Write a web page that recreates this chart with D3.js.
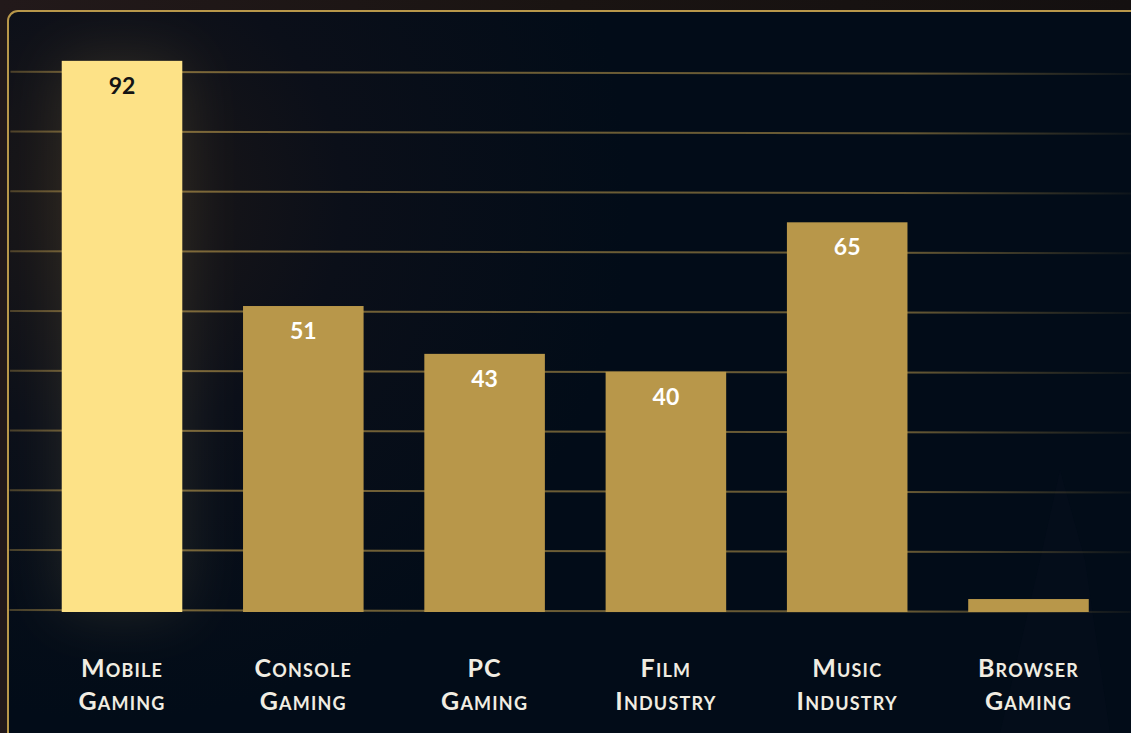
<!DOCTYPE html>
<html lang="en">
<head>
  <meta charset="UTF-8" />
  <title>Industry share</title>
  <style>
    html, body { margin: 0; padding: 0; background: #1b1412; overflow: hidden; }
    svg { display: block; }
    .bar-label { font-family: Lato, "Open Sans", sans-serif; font-size: 23px; font-weight: 700; text-anchor: middle; }
    .cat-label { font-family: Lato, "Open Sans", sans-serif; font-size: 25px; font-weight: 700;
                 font-variant: small-caps; letter-spacing: 1.2px; fill: #f1ede2; text-anchor: middle; }
  </style>
</head>
<body>
  <div id="chart"></div>
  <script src="https://cdn.jsdelivr.net/npm/d3@7"></script>
  <script>
    // data
    const categories = ['Mobile Gaming', 'Console Gaming', 'PC Gaming', 'Film Industry', 'Music Industry', 'Browser Gaming'];
    const values = [92, 51, 43, 40, 65, 2];
    const highlight = 'Mobile Gaming';
    const gridTicks = [0, 10, 20, 30, 40, 50, 60, 70, 80, 90];

    const width = 1131;
    const height = 733;
    const gold = '#b8974a';
    const pale = '#fde287';

    const data = categories.map((c, i) => ({ name: c, value: values[i] }));

    const x = d3.scaleBand()
      .domain(categories)
      .range([1, 1149.5])
      .paddingInner(0.335)
      .paddingOuter(0.335);

    const y = d3.scaleLinear()
      .domain([0, 100])
      .range([611, 13]);

    const svg = d3.select('#chart')
      .append('svg')
      .attr('width', width)
      .attr('height', height);

    const defs = svg.append('defs');

    // panel background: navy with a warm haze at the top left
    const bg = defs.append('radialGradient')
      .attr('id', 'panelGlow')
      .attr('gradientUnits', 'userSpaceOnUse')
      .attr('cx', 110).attr('cy', 200).attr('r', 520);
    bg.append('stop').attr('offset', '0%').attr('stop-color', '#1d1817');
    bg.append('stop').attr('offset', '45%').attr('stop-color', '#0b0f19');
    bg.append('stop').attr('offset', '100%').attr('stop-color', '#020c18');

    const outer = defs.append('linearGradient')
      .attr('id', 'outerBg')
      .attr('x1', '0%').attr('y1', '0%').attr('x2', '100%').attr('y2', '0%');
    outer.append('stop').attr('offset', '0%').attr('stop-color', '#22191a');
    outer.append('stop').attr('offset', '50%').attr('stop-color', '#1a1412');
    outer.append('stop').attr('offset', '100%').attr('stop-color', '#141010');

    const gridGrad = defs.append('linearGradient')
      .attr('id', 'gridGrad')
      .attr('gradientUnits', 'userSpaceOnUse')
      .attr('x1', 10).attr('y1', 0).attr('x2', width).attr('y2', 0);
    gridGrad.append('stop').attr('offset', '0%').attr('stop-color', gold).attr('stop-opacity', 0.35);
    gridGrad.append('stop').attr('offset', '8%').attr('stop-color', gold).attr('stop-opacity', 0.62);
    gridGrad.append('stop').attr('offset', '80%').attr('stop-color', gold).attr('stop-opacity', 0.55);
    gridGrad.append('stop').attr('offset', '100%').attr('stop-color', gold).attr('stop-opacity', 0.06);

    defs.append('filter')
      .attr('id', 'blur')
      .attr('x', '-100%').attr('y', '-50%').attr('width', '300%').attr('height', '200%')
      .append('feGaussianBlur')
      .attr('stdDeviation', 30);

    svg.append('rect')
      .attr('width', width).attr('height', height)
      .attr('fill', 'url(#outerBg)');

    svg.append('rect')
      .attr('x', 8).attr('y', 11)
      .attr('width', width + 40).attr('height', height + 40)
      .attr('rx', 10)
      .attr('fill', 'url(#panelGlow)')
      .attr('stroke', gold)
      .attr('stroke-width', 2);

    // faint silhouette behind the last bar
    svg.append('path')
      .attr('d', 'M1000,733 L1040,560 L1060,470 L1085,560 L1110,733 Z')
      .attr('fill', '#0a1220')
      .attr('opacity', 0.3);

    // gridlines (very slightly tilted, as in the reference)
    svg.append('g')
      .attr('transform', 'rotate(0.11 570 340)')
      .selectAll('line')
      .data(gridTicks)
      .enter()
      .append('line')
      .attr('x1', 10)
      .attr('x2', width)
      .attr('y1', d => y(d))
      .attr('y2', d => y(d))
      .attr('stroke', 'url(#gridGrad)')
      .attr('stroke-width', 2);

    // glow behind the highlighted bar
    svg.append('g')
      .selectAll('rect')
      .data(data.filter(d => d.name === highlight))
      .enter()
      .append('rect')
      .attr('x', d => x(d.name))
      .attr('y', d => y(d.value))
      .attr('width', x.bandwidth())
      .attr('height', d => y(0) - y(d.value))
      .attr('fill', pale)
      .attr('opacity', 0.12)
      .attr('filter', 'url(#blur)');

    svg.append('g')
      .selectAll('rect')
      .data(data)
      .enter()
      .append('rect')
      .attr('x', d => x(d.name))
      .attr('y', d => y(d.value))
      .attr('width', x.bandwidth())
      .attr('height', d => y(0) - y(d.value) + 1)
      .attr('fill', d => d.name === highlight ? pale : gold);

    svg.append('g')
      .selectAll('text')
      .data(data.filter(d => y(0) - y(d.value) > 40))
      .enter()
      .append('text')
      .attr('class', 'bar-label')
      .attr('x', d => x(d.name) + x.bandwidth() / 2)
      .attr('y', d => y(d.value) + 33)
      .attr('fill', d => d.name === highlight ? '#141414' : '#ffffff')
      .text(d => d.value);

    const cats = svg.append('g')
      .selectAll('text')
      .data(categories)
      .enter()
      .append('text')
      .attr('class', 'cat-label')
      .attr('x', d => x(d) + x.bandwidth() / 2)
      .attr('y', 677);

    cats.selectAll('tspan')
      .data(d => d.split(' '))
      .enter()
      .append('tspan')
      .attr('x', function () { return d3.select(this.parentNode).attr('x'); })
      .attr('dy', (d, i) => i === 0 ? 0 : 33)
      .text(d => d);
  </script>
</body>
</html>
